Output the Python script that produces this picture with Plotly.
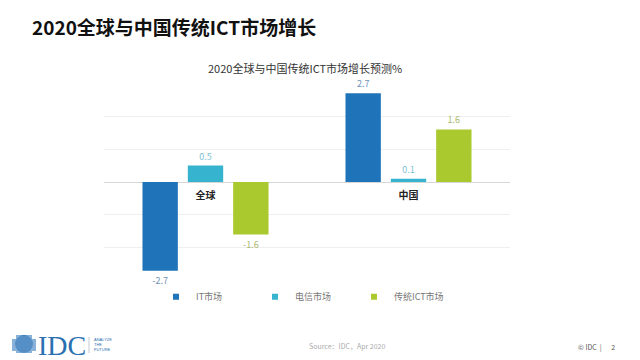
import plotly.graph_objects as go

categories = ["全球", "中国"]
series_names = ["IT市场", "电信市场", "传统ICT市场"]
it_values = [-2.7, 2.7]
telecom_values = [0.5, 0.1]
ict_values = [-1.6, 1.6]

bar_colors = ["#1f74b9", "#36b3ce", "#aac92e"]
label_colors = ["#6f93b5", "#7cc0d2", "#a9b870"]

FONT = "Noto Sans CJK SC"

fig = go.Figure()
for name, vals, col, lcol in zip(series_names, [it_values, telecom_values, ict_values], bar_colors, label_colors):
    fig.add_trace(go.Bar(
        x=categories, y=vals, name=name, showlegend=False,
        marker=dict(color=col, line=dict(width=0)),
        text=[f"{v:.1f}" for v in vals], textposition="outside",
        textfont=dict(size=9, color=lcol, family=FONT),
        cliponaxis=False,
    ))
# legend entries with small square markers
for name, col in zip(series_names, bar_colors):
    fig.add_trace(go.Scatter(x=[categories[0]], y=[None], mode="markers", name=name,
                             marker=dict(symbol="square", size=6, color=col), hoverinfo="skip"))

pw, ph = 640 - 104 - 130, 360 - 83 - 79
def px(x): return (x - 104) / pw
def py(y): return (360 - 79 - y) / ph

fig.update_layout(
    width=640, height=360,
    margin=dict(l=104, r=130, t=83, b=79, autoexpand=False),
    paper_bgcolor="white", plot_bgcolor="white",
    barmode="group", bargap=0.33, bargroupgap=0.22,
    font=dict(family=FONT, color="#333"),
    showlegend=True,
    legend=dict(orientation="h", x=px(156), xanchor="left", y=-0.08, yanchor="middle",
                bgcolor="rgba(0,0,0,0)",
                font=dict(size=9, color="#777", family=FONT), entrywidth=54,
                itemwidth=30, traceorder="normal"),
    xaxis=dict(anchor="free", position=0.5, showline=False, ticks="", ticklabelstandoff=6,
               tickfont=dict(size=10, color="#222", family=FONT, weight="bold"),
               showgrid=False),
    yaxis=dict(range=[-3.01, 3.01], tickvals=[-3, -2, -1, 0, 1, 2, 3], showticklabels=False, showgrid=True,
               gridcolor="#efefef", gridwidth=1, zeroline=True, zerolinecolor="#d6d6d6",
               zerolinewidth=1),
)

annotations = [
    dict(text="<b>2020全球与中国传统ICT市场增长</b>", x=30, y=26,
         showarrow=False, xanchor="left", yanchor="middle",
         font=dict(size=19, color="#111", family=FONT)),
    dict(text="2020全球与中国传统ICT市场增长预测%", x=305, y=68, showarrow=False,
         xanchor="center", yanchor="middle", font=dict(size=11, color="#333", family=FONT)),
    dict(text="IDC", x=36, y=345, showarrow=False, xanchor="left", yanchor="middle",
         font=dict(size=28, color="#2a6fb0", family="Liberation Serif")),
    dict(text="ANALYZE<br>THE<br>FUTURE", x=92, y=344, showarrow=False, xanchor="left", yanchor="middle",
         align="left", font=dict(size=4, color="#2a6fb0", family="Liberation Sans")),
    dict(text="Source：IDC，Apr 2020", x=347, y=346, showarrow=False, xanchor="center", yanchor="middle",
         font=dict(size=7, color="#aaaaaa", family=FONT)),
    dict(text="© IDC  |      2", x=576, y=347, showarrow=False, xanchor="left", yanchor="middle",
         font=dict(size=7, color="#555", family=FONT)),
]
for a in annotations:
    a["xref"] = "paper"; a["yref"] = "paper"
    a["x"] = px(a["x"])
    a["y"] = py(a["y"])
fig.update_layout(annotations=annotations)

shapes = []
# IDC globe logo
shapes.append(dict(type="circle", xref="paper", yref="paper", x0=px(15), x1=px(33), y0=py(353), y1=py(335),
                   fillcolor="#2a6fb0", line=dict(width=0)))
for yy in range(336, 354, 2):
    half = 12 if 339 <= yy <= 350 else 8
    shapes.append(dict(type="line", xref="paper", yref="paper", x0=px(24 - half), x1=px(24 + half),
                       y0=py(yy + 1), y1=py(yy + 1), line=dict(color="white", width=0.8)))
    shapes.append(dict(type="line", xref="paper", yref="paper", x0=px(24 - half), x1=px(24 + half),
                       y0=py(yy), y1=py(yy), line=dict(color="#3a7fc0", width=1.2)))
shapes.append(dict(type="line", xref="paper", yref="paper", x0=px(89), x1=px(89), y0=py(337), y1=py(353),
                   line=dict(color="#9ab", width=0.6)))
fig.update_layout(shapes=shapes)

fig.write_html("out.html", config={"displayModeBar": False},
               post_script="document.body.style.margin='0';document.body.style.overflow='hidden';")
